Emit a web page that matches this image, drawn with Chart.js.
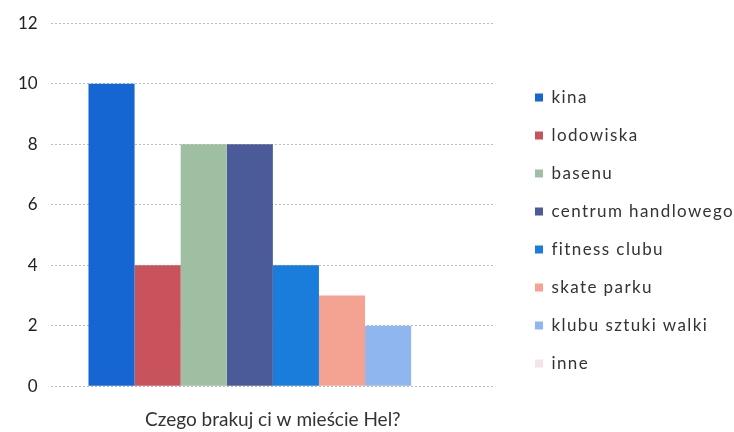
<!DOCTYPE html>
<html>
<head>
<meta charset="utf-8">
<script src="https://cdn.jsdelivr.net/npm/chart.js@4"></script>
<style>
  html, body { margin: 0; padding: 0; background: #fff; }
  #wrap { width: 734px; height: 432px; }
</style>
</head>
<body>
<div id="wrap"><canvas id="chart" width="734" height="432"></canvas></div>
<script>
// one category, one series per answer
var categories = ['Czego brakuj ci w mieście Hel?'];
var seriesNames = ['kina', 'lodowiska', 'basenu', 'centrum handlowego', 'fitness clubu', 'skate parku', 'klubu sztuki walki', 'inne'];
var seriesValues = [10, 4, 8, 8, 4, 3, 2, 0];
var seriesColors = ['#1565d2', '#c9535d', '#9fbfa2', '#4b5a98', '#1a7ddc', '#f4a393', '#8fb6ee', '#f6e2ea'];
var yTicks = [0, 2, 4, 6, 8, 10, 12];

var fontName = 'Lato, "Open Sans", sans-serif';
var legendReserve = 239;   // room kept for the legend on the right
var legendDrawWidth = 220; // where the legend items actually start

var datasets = seriesNames.map(function(name, i) {
  return {
    label: name,
    data: [seriesValues[i]],
    backgroundColor: seriesColors[i],
    borderWidth: 0,
    categoryPercentage: 0.83,
    barPercentage: 1.0
  };
});

// leave a gap between plot and legend, and space the legend letters a bit
var legendSpacer = {
  id: 'legendSpacer',
  beforeLayout: function(chart) {
    var lg = chart.legend;
    if (!lg || lg._spaced) return;
    var fit = lg.fit;
    var draw = lg.draw;
    lg.fit = function() { fit.call(this); this.width = legendReserve; };
    lg.draw = function() {
      var c = this.ctx;
      c.save();
      c.letterSpacing = '1.4px';
      draw.apply(this, arguments);
      c.restore();
    };
    lg._spaced = true;
  },
  afterLayout: function(chart) {
    chart.legend.left = chart.width - legendDrawWidth;
  }
};

var ctx = document.getElementById('chart').getContext('2d');
new Chart(ctx, {
  type: 'bar',
  data: { labels: categories, datasets: datasets },
  plugins: [legendSpacer],
  options: {
    responsive: false,
    animation: false,
    layout: { padding: { top: 13, left: 5, right: 0, bottom: -21 } },
    plugins: {
      tooltip: { enabled: false },
      legend: {
        position: 'right',
        align: 'start',
        maxWidth: 300,
        title: { display: true, text: ' ', font: { size: 10 }, padding: { top: 43, bottom: 0 } },
        labels: {
          boxWidth: 8,
          boxHeight: 8,
          padding: 21,
          color: '#333',
          font: { family: fontName, size: 17 }
        }
      }
    },
    scales: {
      x: {
        grid: { display: false, drawTicks: false },
        border: { display: false },
        ticks: { color: '#333', padding: 22, font: { family: fontName, size: 19 } }
      },
      y: {
        min: 0,
        max: 12,
        afterBuildTicks: function(axis) {
          axis.ticks = yTicks.map(function(v) { return { value: v }; });
        },
        grid: { color: '#bdbdbd', drawTicks: false },
        border: { display: false, dash: [2, 2] },
        ticks: { color: '#222', padding: 13, font: { family: fontName, size: 17 } }
      }
    }
  }
});
</script>
</body>
</html>
